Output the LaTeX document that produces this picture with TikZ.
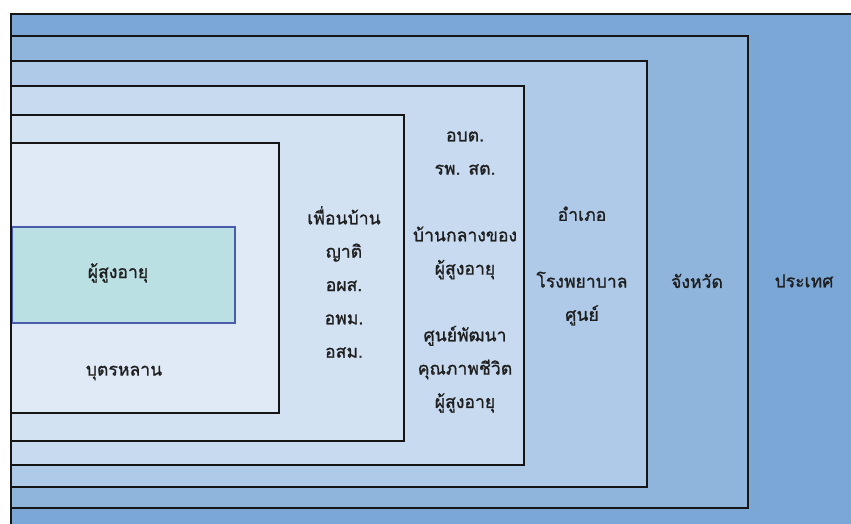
\documentclass[tikz,border=0pt]{standalone}
\usepackage{fontspec}
\newfontfamily\thaifont[Script=Thai,FakeBold=1.1]{Loma}
\usetikzlibrary{positioning}
\definecolor{lvlcountry}{HTML}{7BA7D7}
\definecolor{lvlprovince}{HTML}{8FB5DD}
\definecolor{lvldistrict}{HTML}{AECAE8}
\definecolor{lvlsubdistrict}{HTML}{C7DAEF}
\definecolor{lvlcommunity}{HTML}{D2E2F3}
\definecolor{lvlfamily}{HTML}{DFEAF6}
\definecolor{eldfill}{HTML}{BBE0E3}
\definecolor{eldborder}{HTML}{4A5CAE}
\definecolor{framedark}{HTML}{151515}
\definecolor{textdark}{HTML}{1E1E1E}

\tikzset{
  level/.style={draw=framedark, line width=1.1pt},
  lbl/.style={font=\thaifont\fontsize{13.2}{25}\selectfont, text=textdark,
              align=center, inner sep=0pt},
}

\begin{document}
\begin{tikzpicture}[x=0.75pt, y=-0.75pt]
    \clip (0,0) rectangle (851,524);
    \fill[white] (0,0) rectangle (851,524);
    % levels, outermost first
    \path[level, fill=lvlcountry, line width=1.5pt] (11,14) rectangle (880,560);
    \path[level, fill=lvlprovince] (11,36) rectangle (748,508);
    \path[level, fill=lvldistrict] (11,61) rectangle (647,487);
    \path[level, fill=lvlsubdistrict] (11,86) rectangle (524,465);
    \path[level, fill=lvlcommunity] (11,115) rectangle (404,441);
    \path[level, fill=lvlfamily] (11,143) rectangle (279,413);
    \path[draw=eldborder, fill=eldfill, line width=1.1pt] (12,227) rectangle (235,323);
    \draw[framedark, line width=1.5pt] (11,14) -- (11,524);

    \node[lbl] (elder) at (118,273) {ผู้สูงอายุ};
    \node[lbl] (family) at (124,373) {บุตรหลาน};
    \node[lbl] (community) at (344,282) {เพื่อนบ้าน\\ญาติ\\อผส.\\อพม.\\อสม.};
    \node[lbl] (subdistrict) at (465,272) {อบต.\\รพ. สต.\\[25pt]บ้านกลางของ\\ผู้สูงอายุ\\[25pt]ศูนย์พัฒนา\\คุณภาพชีวิต\\ผู้สูงอายุ};
    \node[lbl] (district) at (582,266) {อำเภอ\\[25pt]โรงพยาบาล\\ศูนย์};
    \node[lbl] (province) at (697,281) {จังหวัด};
    \node[lbl] (country) at (804,281) {ประเทศ};
\end{tikzpicture}
\end{document}
